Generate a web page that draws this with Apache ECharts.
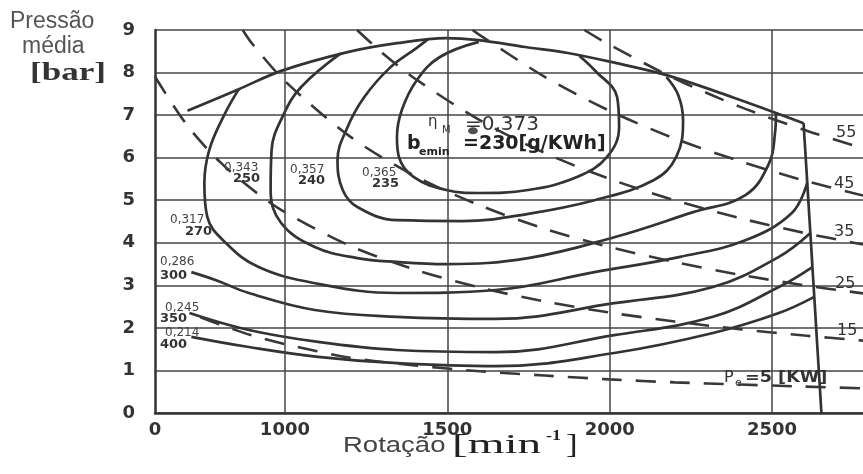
<!DOCTYPE html>
<html><head><meta charset="utf-8">
<script src="https://cdn.jsdelivr.net/npm/echarts@6/dist/echarts.min.js"></script>
<style>html,body{margin:0;padding:0;background:#fff}#c{width:863px;height:474px}</style>
</head><body><div id="c"></div>
<script>
// ---- tick labels ----
const xTicks = [600, 1000, 1500, 2000, 2500];
const xTickText = ['0', '1000', '1500', '2000', '2500'];
const yTicks = [0, 1, 2, 3, 4, 5, 6, 7, 8, 9];

// ---- full load curve (rpm, bar) ----
const fullLoadN = [700, 858, 989, 1193, 1345, 1497, 1597, 1740, 1871, 2004, 2175, 2378, 2597];
const fullLoadP = [7.10, 7.61, 8.04, 8.48, 8.69, 8.81, 8.76, 8.60, 8.46, 8.25, 7.94, 7.42, 6.81];
const wotN = [2597, 2652];
const wotP = [6.81, 0.0];

// ---- efficiency / bsfc contours ----
const c235N = [1597, 1476, 1406, 1360, 1345, 1351, 1396, 1497, 1597, 1749, 1901, 1992, 2029, 2023, 1953, 1907];
const c235P = [8.72, 8.36, 7.82, 7.12, 6.48, 6.02, 5.55, 5.24, 5.17, 5.24, 5.55, 6.02, 6.72, 7.42, 8.06, 8.39];
const c240N = [1440, 1406, 1323, 1244, 1193, 1162, 1178, 1223, 1345, 1548, 1749, 1953, 2135, 2205, 2226, 2211, 2175];
const c240P = [8.78, 8.58, 8.11, 7.42, 6.72, 5.94, 5.24, 4.84, 4.53, 4.51, 4.68, 5.00, 5.47, 6.02, 6.88, 7.47, 7.89];
const c250N = [1172, 1050, 995, 959, 956, 989, 1092, 1223, 1345, 1497, 1749, 2014, 2257, 2418, 2491, 2509, 2512];
const c250P = [8.45, 7.66, 7.00, 6.18, 5.24, 4.46, 3.90, 3.64, 3.55, 3.50, 3.64, 4.13, 4.72, 5.12, 5.87, 6.58, 7.05];
const c270N = [858, 813, 767, 752, 761, 819, 919, 1092, 1345, 1649, 1953, 2217, 2418, 2561, 2608];
const c270P = [7.61, 7.00, 6.18, 5.40, 4.61, 3.99, 3.43, 3.05, 2.82, 2.89, 3.31, 3.67, 4.06, 4.70, 5.40];
const c300N = [712, 788, 889, 1092, 1345, 1649, 2014, 2318, 2521, 2618];
const c300P = [3.31, 3.12, 2.82, 2.42, 2.26, 2.21, 2.58, 2.96, 3.67, 4.23];
const c350N = [706, 889, 1102, 1345, 1649, 2014, 2318, 2521, 2624];
const c350P = [2.35, 1.95, 1.67, 1.48, 1.43, 1.83, 2.26, 2.96, 3.43];
const c400N = [712, 889, 1102, 1345, 1649, 2014, 2318, 2521, 2630];
const c400P = [1.79, 1.55, 1.32, 1.17, 1.10, 1.41, 1.88, 2.35, 2.73];

// ---- constant power lines Pe [kW] ----
const pe5N = [740, 800, 900, 1000, 1200, 1400, 1600, 1800, 2000, 2200, 2400, 2600, 2780];
const pe5P = [2.25, 2.08, 1.82, 1.62, 1.30, 1.12, 0.98, 0.88, 0.79, 0.72, 0.67, 0.62, 0.58];
const pe15N = [600, 700, 800, 900, 1000, 1200, 1400, 1600, 1800, 2000, 2200, 2400, 2600, 2780];
const pe15P = [7.90, 6.75, 5.90, 5.25, 4.72, 3.93, 3.37, 2.95, 2.62, 2.36, 2.15, 1.97, 1.82, 1.70];
const pe25N = [870, 900, 1000, 1200, 1400, 1600, 1800, 2000, 2200, 2400, 2600, 2780];
const pe25P = [9.0, 8.67, 7.80, 6.50, 5.57, 4.88, 4.33, 3.90, 3.55, 3.25, 3.00, 2.81];
const pe35N = [1222, 1300, 1400, 1600, 1800, 2000, 2200, 2400, 2600, 2780];
const pe35P = [9.0, 8.46, 7.86, 6.88, 6.11, 5.50, 5.00, 4.58, 4.23, 3.96];
const pe45N = [1578, 1600, 1800, 2000, 2200, 2400, 2600, 2780];
const pe45P = [9.0, 8.88, 7.90, 7.10, 6.45, 5.92, 5.46, 5.11];
const pe55N = [1922, 2000, 2200, 2400, 2600, 2780];
const pe55P = [9.0, 8.65, 7.86, 7.20, 6.65, 6.22];

// ---- optimum point ----
const optN = [1579];
const optP = [6.63];

const zip = (n, p) => n.map((v, i) => [v, p[i]]);
const solid = { color: '#333333', width: 2.7 };
const dashed = { color: '#383838', width: 2.6, type: [20, 14] };

function line(name, n, p, style, smooth) {
  return { name, type: 'line', data: zip(n, p), showSymbol: false, symbol: 'none',
    smooth: smooth, lineStyle: style, silent: true, z: 3 };
}

const series = [
  Object.assign(line('full', fullLoadN, fullLoadP, solid, 0.35), {
    markLine: { silent: true, symbol: 'none', label: { show: false },
      lineStyle: { color: '#444', width: 1.5, type: 'solid' },
      data: xTicks.slice(1).map(v => ({ xAxis: v })) }
  }),
  line('wot', wotN, wotP, solid, false),
  line('235', c235N, c235P, solid, 0.4),
  line('240', c240N, c240P, solid, 0.4),
  line('250', c250N, c250P, solid, 0.4),
  line('270', c270N, c270P, solid, 0.4),
  line('300', c300N, c300P, solid, 0.4),
  line('350', c350N, c350P, solid, 0.4),
  line('400', c400N, c400P, solid, 0.4),
  line('pe5', pe5N, pe5P, dashed, 0.3),
  line('pe15', pe15N, pe15P, dashed, 0.3),
  line('pe25', pe25N, pe25P, dashed, 0.3),
  line('pe35', pe35N, pe35P, dashed, 0.3),
  line('pe45', pe45N, pe45P, dashed, 0.3),
  line('pe55', pe55N, pe55P, dashed, 0.3),
  { type: 'scatter', data: zip(optN, optP), symbol: 'circle', symbolSize: [10, 7],
    itemStyle: { color: '#222' }, silent: true, z: 4 }
];

function txt(x, y, text, font, fill, extra) {
  return Object.assign({ type: 'text', x, y, silent: true, z: 10,
    style: { text, font, fill: fill || '#333', textVerticalAlign: 'middle' } }, extra || {});
}
const lf = '12px "DejaVu Sans"';
const lb = 'bold 13px "DejaVu Sans"';
const graphics = [
  txt(10, 22, 'Pressão', '23px "Liberation Sans"', '#555'),
  txt(22, 47, 'média', '23px "Liberation Sans"', '#555'),
  txt(30, 73, '[bar]', 'bold 26px "Liberation Serif"', '#333', { scaleX: 1.35 }),
  txt(343, 446, 'Rotação', '22px "Liberation Sans"', '#444', { scaleX: 1.25 }),
  txt(452, 446, '[min', '27px "Liberation Serif"', '#222', { scaleX: 1.75 }),
  txt(546, 436, '-1', 'bold 15px "Liberation Serif"', '#222', { scaleX: 1.2 }),
  txt(566, 446, ']', '27px "Liberation Serif"', '#222', { scaleX: 1.3 }),
  // contour labels
  txt(170, 220, '0,317', lf, '#444'), txt(185, 232, '270', lb, '#333'),
  txt(224, 168, '0,343', lf, '#444'), txt(233, 179, '250', lb, '#333'),
  txt(290, 170, '0,357', lf, '#444'), txt(298, 181, '240', lb, '#333'),
  txt(362, 173, '0,365', lf, '#444'), txt(372, 184, '235', lb, '#333'),
  txt(160, 262, '0,286', lf, '#444'), txt(160, 276, '300', lb, '#333'),
  txt(165, 308, '0,245', lf, '#444'), txt(160, 319, '350', lb, '#333'),
  txt(165, 333, '0,214', lf, '#444'), txt(160, 345, '400', lb, '#333'),
  // power labels
  txt(836, 133, '55', '16px "DejaVu Sans"', '#333'),
  txt(834, 184, '45', '16px "DejaVu Sans"', '#333'),
  txt(834, 232, '35', '16px "DejaVu Sans"', '#333'),
  txt(835, 284, '25', '16px "DejaVu Sans"', '#333'),
  txt(837, 331, '15', '16px "DejaVu Sans"', '#333'),
  txt(724, 378, 'P', '16px "DejaVu Sans"', '#333'),
  txt(735, 383, 'e', '11px "DejaVu Sans"', '#333'),
  txt(745, 378, '=5 [KW]', 'bold 16px "DejaVu Sans"', '#333', { scaleX: 1.1 }),
  // optimum annotation
  txt(428, 122, 'η', '15px "DejaVu Sans"', '#333'),
  txt(442, 130, 'M', '10px "DejaVu Sans"', '#333'),
  txt(465, 125, '=0,373', '20px "DejaVu Sans"', '#333'),
  txt(407, 144, 'b', 'bold 19px "DejaVu Sans"', '#222'),
  txt(419, 152, 'emin', 'bold 11px "DejaVu Sans"', '#222'),
  txt(463, 144, '=230[g/KWh]', 'bold 19px "DejaVu Sans"', '#222')
];

const chart = echarts.init(document.getElementById('c'), null, { renderer: 'canvas' });
chart.setOption({
  animation: false,
  backgroundColor: '#fff',
  grid: { left: 155, right: -9, top: 30, bottom: 61 },
  xAxis: {
    type: 'value', min: 600, max: 2780,
    axisLine: { show: true, lineStyle: { color: '#333', width: 2.5 } },
    axisTick: { show: false },
    splitLine: { show: false },
    axisLabel: {
      customValues: xTicks,
      formatter: v => xTickText[xTicks.indexOf(v)] ?? '',
      fontFamily: 'DejaVu Sans', fontWeight: 'bold', fontSize: 18, color: '#333', margin: 8
    }
  },
  yAxis: {
    type: 'value', min: 0, max: 9, interval: 1,
    axisLine: { show: true, lineStyle: { color: '#333', width: 2.5 } },
    axisTick: { show: false },
    splitLine: { show: true, lineStyle: { color: '#444', width: 1.5 } },
    axisLabel: { fontFamily: 'DejaVu Sans', fontWeight: 'bold', fontSize: 18, color: '#333', margin: 20,
      formatter: v => yTicks.includes(v) ? String(v) : '' }
  },
  series,
  graphic: graphics
});
</script>
</body></html>
